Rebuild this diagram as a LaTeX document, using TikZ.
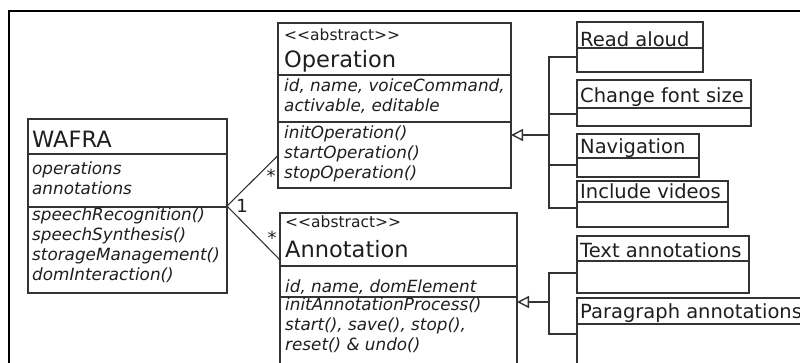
\documentclass[tikz,border=0pt]{standalone}
\usepackage{fontspec}
\setmainfont{DejaVu Sans}
\newfontfamily\stereofont{DejaVu Sans}[Ligatures=TeXOff]
\usetikzlibrary{arrows.meta}

\definecolor{linegray}{HTML}{333333}
\definecolor{inkgray}{HTML}{1E1E1E}

\tikzset{
  cls/.style={draw=linegray, line width=1.1pt, anchor=north west, inner sep=0pt, outer sep=0pt},
  sep/.style={linegray, line width=1.1pt},
  clsname/.style={anchor=base west, inner sep=0pt, text=inkgray, font=\fontsize{22.5}{27}\selectfont},
  stereo/.style={anchor=base west, inner sep=0pt, text=inkgray, font=\stereofont\fontsize{15.5}{18}\selectfont},
  members/.style={anchor=base west, inner sep=0pt, align=left, text=inkgray, font=\itshape\fontsize{16.8}{20}\selectfont},
  subname/.style={anchor=base west, inner sep=0pt, text=inkgray, font=\fontsize{19.5}{23}\selectfont},
  mult/.style={inner sep=0pt, text=inkgray, font=\fontsize{18}{20}\selectfont},
  assoc/.style={linegray, line width=1.1pt},
  gen/.style={linegray, line width=1.4pt},
  genhead/.style={-{Triangle[open, length=12pt, width=12pt]}},
}

\begin{document}
\begin{tikzpicture}[x=1pt, y=-1pt]
\useasboundingbox (0,0) rectangle (800,362);
\clip (0,0) rectangle (800,362);

% outer frame
\draw [line width=1.4pt, black] (820,11) -- (9,11) -- (9,380);

% WAFRA (member nodes sit on the baseline of their last line)
\node[cls, minimum width=199pt, minimum height=174pt] (wafra) at (28,119) {};
\draw[sep] (28,154) -- (227,154);
\draw[sep] (28,207) -- (227,207);
\node[clsname] (wafraname) at (32,147) {WAFRA};
\node[members] (wafraattr) at (32,194) {operations\\annotations};
\node[members] (wafraops) at (32,280) {speechRecognition()\\speechSynthesis()\\storageManagement()\\domInteraction()};

% Operation
\node[cls, minimum width=233pt, minimum height=165pt] (op) at (278,23) {};
\draw[sep] (278,75) -- (511,75);
\draw[sep] (278,122) -- (511,122);
\node[stereo] (opstereo) at (284,40) {<<abstract>>};
\node[clsname] (opname) at (284,67) {Operation};
\node[members] (opattr) at (284,111) {id, name, voiceCommand,\\activable, editable};
\node[members] (opops) at (284,178) {initOperation()\\startOperation()\\stopOperation()};

% Annotation
\node[cls, minimum width=237pt, minimum height=160pt] (ann) at (280,213) {};
\draw[sep] (280,266) -- (517,266);
\draw[sep] (280,297) -- (517,297);
\node[stereo] (annstereo) at (285,227) {<<abstract>>};
\node[clsname] (annname) at (285,257) {Annotation};
\node[members] (annattr) at (285,292) {id, name, domElement};
\node[members] (annops) at (285,350) {initAnnotationProcess()\\start(), save(), stop(),\\reset() \& undo()};

% operations
\node[cls, minimum width=126pt, minimum height=50pt] (read) at (577,22) {};
\draw[sep] (577,48) -- (703,48);
\node[subname] (readname) at (580,46) {Read aloud};
\node[cls, minimum width=174pt, minimum height=46pt] (font) at (577,80) {};
\draw[sep] (577,108) -- (751,108);
\node[subname] (fontname) at (580,102) {Change font size};
\node[cls, minimum width=122pt, minimum height=43pt] (nav) at (577,134) {};
\draw[sep] (577,158) -- (699,158);
\node[subname] (navname) at (580,153) {Navigation};
\node[cls, minimum width=151pt, minimum height=46pt] (video) at (577,181) {};
\draw[sep] (577,202) -- (728,202);
\node[subname] (videoname) at (580,198) {Include videos};

% annotations
\node[cls, minimum width=172pt, minimum height=57pt] (textann) at (577,236) {};
\draw[sep] (577,261) -- (749,261);
\node[subname] (textannname) at (580,257) {Text annotations};
\node[cls, minimum width=260pt, minimum height=80pt] (para) at (577,298) {};
\draw[sep] (577,324) -- (837,324);
\node[subname] (paraname) at (580,318) {Paragraph annotations};

% associations
\draw[assoc] (wafra.east) -- ([yshift=-50pt]op.west);
\draw[assoc] (wafra.east) -- ([yshift=33pt]ann.west);
\node[mult] (one) at (242,206) {1};
\node[mult] (manyop) at (271,176) {*};
\node[mult] (manyann) at (272,238) {*};

% generalizations
\coordinate (opfork) at (549,135);
\coordinate (annfork) at (549,302);
\draw[gen] ([yshift=-10pt]read.west) -| (opfork);
\draw[gen] ([yshift=-11pt]font.west) -| (opfork);
\draw[gen] ([yshift=-9.5pt]nav.west) -| (opfork);
\draw[gen] ([yshift=-4pt]video.west) -| (opfork);
\draw[gen, genhead] (opfork) -- (opfork -| op.east);
\draw[gen] ([yshift=-8.5pt]textann.west) -| (annfork);
\draw[gen] ([yshift=4pt]para.west) -| (annfork);
\draw[gen, genhead] (annfork) -- (annfork -| ann.east);

\end{tikzpicture}
\end{document}
